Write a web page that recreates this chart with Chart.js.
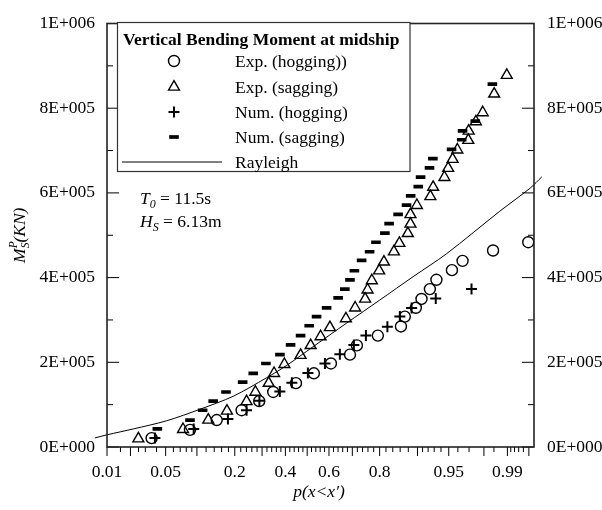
<!DOCTYPE html>
<html>
<head>
<meta charset="utf-8">
<script src="https://cdn.jsdelivr.net/npm/chart.js@4.4.1/dist/chart.umd.min.js"></script>
<style>
    html, body { margin: 0; padding: 0; background: #fff; }
    canvas { display: block; }
</style>
</head>
<body>
<canvas id="chart" width="602" height="510"></canvas>
<script>
// probability (x) values and bending moment (y) values
const expHogP = [0.0353, 0.0866, 0.1465, 0.2230, 0.2887, 0.3465, 0.4480, 0.5310, 0.6086, 0.6904, 0.7182, 0.7942, 0.8620, 0.8717, 0.8966, 0.9080, 0.9230, 0.9334, 0.9537, 0.9645, 0.9846, 0.9949];
const expHogM = [20900, 40400, 63600, 86800, 108300, 129900, 150800, 174000, 197200, 218100, 239900, 263100, 284700, 307900, 328700, 349600, 372800, 394900, 417600, 439400, 464000, 483500];

const expSagP = [0.0249, 0.0745, 0.1252, 0.1755, 0.2405, 0.2737, 0.3273, 0.3502, 0.3956, 0.4694, 0.5159, 0.5619, 0.6040, 0.6735, 0.7113, 0.7496, 0.7586, 0.7737, 0.7984, 0.8137, 0.8431, 0.8579, 0.8789, 0.8849, 0.8849, 0.8988, 0.9238, 0.9283, 0.9446, 0.9493, 0.9545, 0.9595, 0.9694, 0.9697, 0.9750, 0.9793, 0.9851, 0.9898];
const expSagM = [19500, 41800, 63800, 85100, 107400, 129700, 150800, 174000, 195300, 216700, 239900, 260800, 282300, 303200, 328700, 349600, 371200, 393000, 416200, 437100, 461000, 481200, 504400, 526600, 549100, 570700, 591600, 613600, 636800, 658200, 679500, 701800, 724300, 746300, 768400, 789700, 833800, 877900];

const numHogP = [0.0384, 0.0936, 0.1785, 0.2405, 0.2893, 0.3753, 0.4294, 0.5032, 0.5816, 0.6479, 0.7062, 0.7525, 0.8243, 0.8592, 0.8875, 0.9324, 0.9719];
const numHogM = [21300, 42700, 65900, 86800, 109300, 130800, 152000, 174900, 197200, 219200, 240600, 263100, 284200, 307900, 328300, 350800, 372800];

const numSagP = [0.0408, 0.0866, 0.1122, 0.1373, 0.1727, 0.2266, 0.2653, 0.3157, 0.3757, 0.4235, 0.4694, 0.5092, 0.5434, 0.5893, 0.6404, 0.6691, 0.6904, 0.7083, 0.7364, 0.7658, 0.7878, 0.8167, 0.8294, 0.8546, 0.8758, 0.8854, 0.9016, 0.9062, 0.9224, 0.9279, 0.9533, 0.9637, 0.9645, 0.9746, 0.9843];
const numSagM = [42700, 63600, 86800, 108300, 129900, 153100, 174000, 197200, 218100, 241300, 263100, 286300, 307900, 328700, 351900, 372800, 394400, 416200, 440800, 461000, 483500, 505100, 527600, 549100, 571200, 593200, 614800, 637300, 658900, 680700, 703000, 725500, 746300, 769500, 857000];

const rayP = [0.0068, 0.0100, 0.0217, 0.0512, 0.1063, 0.1952, 0.3186, 0.4053, 0.5279, 0.6763, 0.8006, 0.8909, 0.9473, 0.9874, 0.9952, 0.9968];
const rayM = [21300, 28800, 42700, 61900, 89100, 119900, 163500, 192500, 237000, 292500, 347000, 402300, 456300, 556800, 611100, 638000];

// axis ticks
const xTickP = [0.01, 0.05, 0.2, 0.4, 0.6, 0.8, 0.95, 0.99];
const xTickLabels = ["0.01", "0.05", "0.2", "0.4", "0.6", "0.8", "0.95", "0.99"];
const xLongTicks = [0.01, 0.02, 0.05, 0.1, 0.2, 0.3, 0.4, 0.5, 0.6, 0.7, 0.8, 0.9, 0.95, 0.98, 0.99, 0.995];
const xShortTicks = [0.015, 0.025, 0.03, 0.04, 0.06, 0.07, 0.08, 0.09, 0.12, 0.14, 0.16, 0.18,
    0.22, 0.24, 0.26, 0.28, 0.32, 0.34, 0.36, 0.38, 0.42, 0.44, 0.46, 0.48, 0.52, 0.54, 0.56, 0.58,
    0.62, 0.64, 0.66, 0.68, 0.72, 0.74, 0.76, 0.78, 0.82, 0.84, 0.86, 0.88, 0.91, 0.92, 0.93, 0.94,
    0.96, 0.97, 0.985, 0.991, 0.992, 0.993, 0.994];
const yMinorTicks = [100000, 300000, 500000, 700000, 900000];

const serif = "'Liberation Serif', 'Times New Roman', serif";

// inverse normal CDF (normal probability paper)
function probit(p) {
    const a = [-3.969683028665376e1, 2.209460984245205e2, -2.759285104469687e2, 1.38357751867269e2, -3.066479806614716e1, 2.506628277459239];
    const b = [-5.447609879822406e1, 1.615858368580409e2, -1.556989798598866e2, 6.680131188771972e1, -1.328068155288572e1];
    const c = [-7.784894002430293e-3, -3.223964580411365e-1, -2.400758277161838, -2.549732539343734, 4.374664141464968, 2.938163982698783];
    const d = [7.784695709041462e-3, 3.224671290700398e-1, 2.445134137142996, 3.754408661907416];
    const lo = 0.02425;
    let q, r;
    if (p < lo) {
        q = Math.sqrt(-2 * Math.log(p));
        return (((((c[0] * q + c[1]) * q + c[2]) * q + c[3]) * q + c[4]) * q + c[5]) /
            ((((d[0] * q + d[1]) * q + d[2]) * q + d[3]) * q + 1);
    }
    if (p > 1 - lo) {
        q = Math.sqrt(-2 * Math.log(1 - p));
        return -(((((c[0] * q + c[1]) * q + c[2]) * q + c[3]) * q + c[4]) * q + c[5]) /
            ((((d[0] * q + d[1]) * q + d[2]) * q + d[3]) * q + 1);
    }
    q = p - 0.5;
    r = q * q;
    return (((((a[0] * r + a[1]) * r + a[2]) * r + a[3]) * r + a[4]) * r + a[5]) * q /
        (((((b[0] * r + b[1]) * r + b[2]) * r + b[3]) * r + b[4]) * r + 1);
}

const pts = (ps, ms) => ps.map((p, i) => ({ x: probit(p), y: ms[i] }));

const sciFormat = (v) => {
    if (v === 0) return "0E+000";
    const e = Math.floor(Math.log10(v) + 1e-9);
    const m = Math.round(v / Math.pow(10, e));
    return m + "E+" + String(e).padStart(3, "0");
};

// draws a run of text pieces (italic, sub/superscripts) starting at x
function richText(ctx, parts, x, y) {
    let cx = x;
    parts.forEach((p) => {
        ctx.font = p.font;
        ctx.fillText(p.t, cx, y + (p.dy || 0));
        if (!p.stack) cx += ctx.measureText(p.t).width;
    });
    return cx - x;
}
function richWidth(ctx, parts) {
    let w = 0;
    parts.forEach((p) => {
        ctx.font = p.font;
        if (!p.stack) w += ctx.measureText(p.t).width;
    });
    return w;
}

const legendRows = [61, 87, 112, 137, 162];

const overlay = {
    id: "overlay",
    afterDraw(chart) {
        const { ctx, chartArea: a, scales } = chart;
        const x = scales.x, y = scales.y;
        ctx.save();

        // ticks
        ctx.strokeStyle = "#000";
        ctx.lineWidth = 1;
        ctx.beginPath();
        y.ticks.forEach((t) => {
            const py = y.getPixelForValue(t.value);
            ctx.moveTo(a.left, py); ctx.lineTo(a.left + 12, py);
            ctx.moveTo(a.right, py); ctx.lineTo(a.right - 12, py);
        });
        yMinorTicks.forEach((v) => {
            const py = y.getPixelForValue(v);
            ctx.moveTo(a.left, py); ctx.lineTo(a.left + 6, py);
            ctx.moveTo(a.right, py); ctx.lineTo(a.right - 6, py);
        });
        xLongTicks.forEach((p) => {
            const px = x.getPixelForValue(probit(p));
            ctx.moveTo(px, a.bottom); ctx.lineTo(px, a.bottom + 9);
        });
        xShortTicks.forEach((p) => {
            const px = x.getPixelForValue(probit(p));
            ctx.moveTo(px, a.bottom); ctx.lineTo(px, a.bottom + 5);
        });
        ctx.stroke();

        // frame
        ctx.strokeStyle = "#222";
        ctx.lineWidth = 1.6;
        ctx.strokeRect(a.left, a.top, a.right - a.left, a.bottom - a.top);

        // legend box
        ctx.fillStyle = "#fff";
        ctx.fillRect(117.5, 22.5, 292.5, 149);
        ctx.strokeStyle = "#333";
        ctx.lineWidth = 1.2;
        ctx.strokeRect(117.5, 22.5, 292.5, 149);

        ctx.fillStyle = "#000";
        ctx.textBaseline = "alphabetic";
        ctx.font = "bold 17.5px " + serif;
        ctx.fillText("Vertical Bending Moment at midship", 123, 45);

        chart.data.datasets.forEach((ds, i) => {
            const ry = legendRows[i];
            ctx.strokeStyle = ds.pointBorderColor || ds.borderColor;
            ctx.fillStyle = ds.pointBackgroundColor || "rgba(0,0,0,0)";
            if (ds.showLine) {
                ctx.lineWidth = ds.borderWidth;
                ctx.beginPath();
                ctx.moveTo(122, ry); ctx.lineTo(222, ry);
                ctx.stroke();
            } else {
                ctx.lineWidth = ds.pointBorderWidth;
                Chart.helpers.drawPoint(ctx, {
                    pointStyle: ds.pointStyle,
                    radius: ds.pointRadius,
                    rotation: 0,
                    borderWidth: ds.pointBorderWidth,
                }, 174, ry);
            }
            ctx.fillStyle = "#000";
            ctx.textBaseline = "middle";
            ctx.font = "17.5px " + serif;
            ctx.fillText(ds.label, 235, ry + 1);
        });

        // sea state annotation
        ctx.textBaseline = "alphabetic";
        ctx.fillStyle = "#000";
        richText(ctx, [
            { t: "T", font: "italic 17.5px " + serif },
            { t: "0", font: "italic 12px " + serif, dy: 4 },
            { t: " = 11.5s", font: "17.5px " + serif },
        ], 140, 204);
        richText(ctx, [
            { t: "H", font: "italic 17.5px " + serif },
            { t: "S", font: "italic 12px " + serif, dy: 4 },
            { t: " = 6.13m", font: "17.5px " + serif },
        ], 140, 227);

        // x title
        const xt = [{ t: "p(x<x\u2032)", font: "italic 17.5px " + serif }];
        richText(ctx, xt, 319 - richWidth(ctx, xt) / 2, 497);

        // y title
        const yt = [
            { t: "M", font: "italic 17.5px " + serif },
            { t: "P", font: "italic 11.5px " + serif, dy: -8, stack: true },
            { t: "S", font: "italic 11.5px " + serif, dy: 4 },
            { t: "(KN)", font: "italic 17.5px " + serif },
        ];
        ctx.translate(25, (a.top + a.bottom) / 2);
        ctx.rotate(-Math.PI / 2);
        richText(ctx, yt, -richWidth(ctx, yt) / 2, 0);

        ctx.restore();
    },
};

Chart.defaults.font.family = serif;
Chart.defaults.color = "#000";

const yAxis = (position, width, padding) => ({
    type: "linear",
    position: position,
    min: 0,
    max: 1000000,
    grid: { display: false, drawTicks: false },
    border: { display: false },
    ticks: {
        stepSize: 200000,
        padding: padding,
        font: { size: 17.5 },
        callback: (v) => sciFormat(v),
    },
    afterFit: (s) => { s.width = width; },
});

new Chart(document.getElementById("chart").getContext("2d"), {
    type: "scatter",
    data: {
        datasets: [
            {
                label: "Exp. (hogging))",
                data: pts(expHogP, expHogM),
                pointStyle: "circle",
                pointRadius: 5.5,
                pointBorderColor: "#000",
                pointBackgroundColor: "rgba(0,0,0,0)",
                pointBorderWidth: 1.4,
                borderColor: "#000",
            },
            {
                label: "Exp. (sagging)",
                data: pts(expSagP, expSagM),
                pointStyle: "triangle",
                pointRadius: 6.3,
                pointBorderColor: "#000",
                pointBackgroundColor: "rgba(0,0,0,0)",
                pointBorderWidth: 1.4,
                borderColor: "#000",
            },
            {
                label: "Num. (hogging)",
                data: pts(numHogP, numHogM),
                pointStyle: "cross",
                pointRadius: 5.5,
                pointBorderColor: "#000",
                pointBorderWidth: 2,
                borderColor: "#000",
            },
            {
                label: "Num. (sagging)",
                data: pts(numSagP, numSagM),
                pointStyle: "line",
                pointRadius: 4.8,
                pointBorderColor: "#000",
                pointBorderWidth: 3.7,
                borderColor: "#000",
            },
            {
                label: "Rayleigh",
                data: pts(rayP, rayM),
                showLine: true,
                pointRadius: 0,
                borderColor: "#000",
                borderWidth: 1,
                tension: 0.3,
                clip: false,
            },
        ],
    },
    options: {
        responsive: false,
        animation: false,
        events: [],
        layout: { padding: { top: 16, left: 0, right: 0, bottom: 0 } },
        plugins: {
            legend: { display: false },
            tooltip: { enabled: false },
        },
        scales: {
            x: {
                type: "linear",
                min: probit(0.01),
                max: probit(0.9958),
                grid: { display: false, drawTicks: false },
                border: { display: false },
                afterBuildTicks: (s) => {
                    s.ticks = xTickP.map((p) => ({ value: probit(p) }));
                },
                ticks: {
                    autoSkip: false,
                    maxRotation: 0,
                    minRotation: 0,
                    padding: 15,
                    font: { size: 17.5 },
                    callback: (v, i) => xTickLabels[i],
                },
                afterFit: (s) => { s.height = 63; },
            },
            y: yAxis("left", 107, 12),
            y2: yAxis("right", 68, 13),
        },
    },
    plugins: [overlay],
});
</script>
</body>
</html>
